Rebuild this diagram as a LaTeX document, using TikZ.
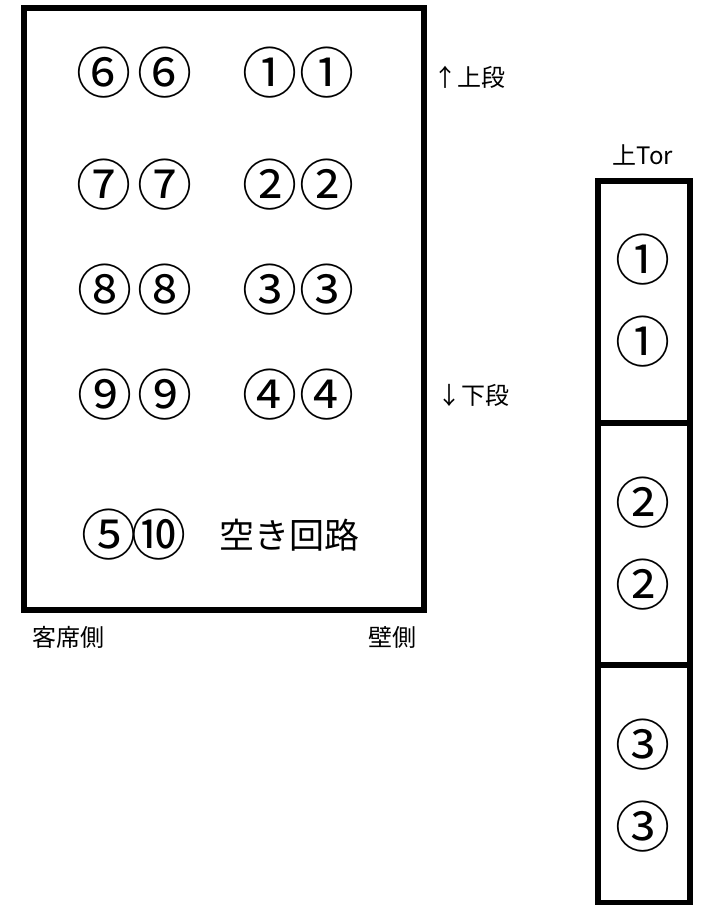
\documentclass[tikz,border=0pt]{standalone}
\usepackage{fontspec}
\setmainfont{Noto Sans CJK JP}
\newfontfamily\jpfont{Noto Sans CJK JP}
\begin{document}
\begin{tikzpicture}[x=1pt,y=-1pt,
  frame/.style={draw=black,line width=6pt},
  cnum/.style={inner sep=0pt,font=\jpfont\fontsize{55}{55}\selectfont},
  lbl/.style={inner sep=0pt,font=\jpfont\fontsize{24}{24}\selectfont},
  big/.style={inner sep=0pt,font=\jpfont\fontsize{35}{35}\selectfont}]
\useasboundingbox (0,0) rectangle (704,905);
% left panel
\draw[frame] (24,8) rectangle (424,610);
\node[cnum] (a6a) at (104,73) {⑥};
\node[cnum] (a6b) at (165,73) {⑥};
\node[cnum] (a1a) at (270,73) {①};
\node[cnum] (a1b) at (327,73) {①};
\node[cnum] (a7a) at (104,185) {⑦};
\node[cnum] (a7b) at (165,185) {⑦};
\node[cnum] (a2a) at (270,185) {②};
\node[cnum] (a2b) at (327,185) {②};
\node[cnum] (a8a) at (105,290) {⑧};
\node[cnum] (a8b) at (165,290) {⑧};
\node[cnum] (a3a) at (270,290) {③};
\node[cnum] (a3b) at (327,290) {③};
\node[cnum] (a9a) at (105,395) {⑨};
\node[cnum] (a9b) at (165,395) {⑨};
\node[cnum] (a4a) at (270,395) {④};
\node[cnum] (a4b) at (327,395) {④};
\node[cnum] (a5) at (109,535) {⑤};
\node[cnum] (a10) at (159,535) {⑩};
\node[big] (free) at (289,535) {空き回路};
\node[lbl,anchor=west] (upper) at (433,77) {↑上段};
\node[lbl,anchor=west] (lower) at (437,395) {↓下段};
\node[lbl,anchor=west] (seat) at (32,637) {客席側};
\node[lbl,anchor=east] (wall) at (417,637) {壁側};
% right panel
\node[lbl] (tor) at (643,155) {上Tor};
\draw[frame] (598,181) rectangle (690,902.5);
\draw[frame] (598,423) -- (690,423);
\draw[frame] (598,665) -- (690,665);
\node[cnum] (b1a) at (643,260) {①};
\node[cnum] (b1b) at (643,342) {①};
\node[cnum] (b2a) at (643,503) {②};
\node[cnum] (b2b) at (643,585) {②};
\node[cnum] (b3a) at (643,745) {③};
\node[cnum] (b3b) at (643,827) {③};
\end{tikzpicture}
\end{document}
